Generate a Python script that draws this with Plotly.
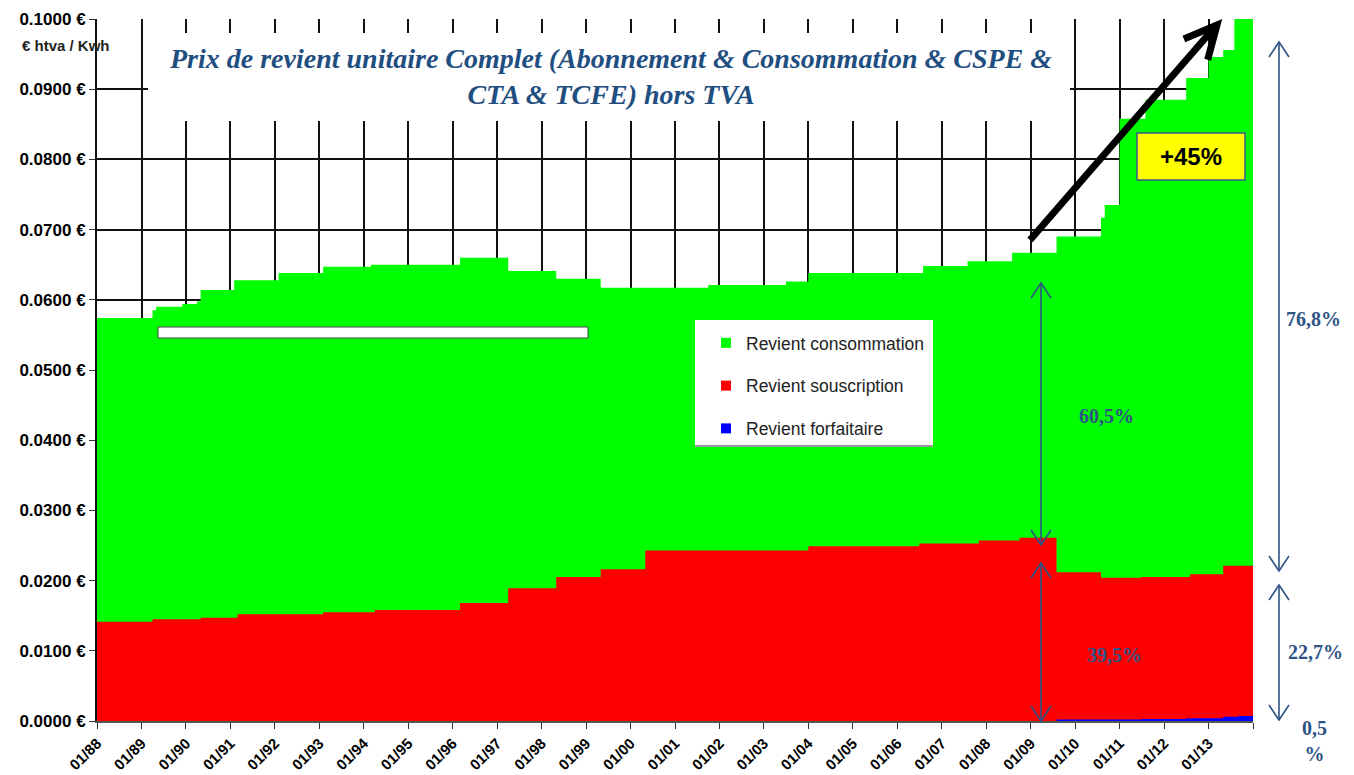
import math
import plotly.graph_objects as go

# step data (value holds from its date until the next one)
# top of the green band = full unit cost (€ HTVA / kWh)
total_dates = ["1988-01-01", "1989-04-01", "1989-05-01", "1989-12-01", "1990-04-01", "1990-05-01",
               "1991-02-01", "1992-02-01", "1993-02-01", "1994-03-01", "1996-03-01", "1997-04-01",
               "1998-05-01", "1999-05-01", "2001-10-01", "2003-07-01", "2004-01-01", "2006-08-01",
               "2007-08-01", "2008-08-01", "2009-08-01", "2010-08-01", "2010-09-01", "2011-01-01",
               "2011-08-01", "2012-07-01", "2013-01-01", "2013-05-01", "2013-08-01", "2014-01-01"]
total_vals = [0.0574, 0.0585, 0.0590, 0.0594, 0.0598, 0.0614,
              0.0628, 0.0638, 0.0647, 0.0650, 0.0660, 0.0641,
              0.0630, 0.0617, 0.0621, 0.0626, 0.0638, 0.0648,
              0.0655, 0.0667, 0.0690, 0.0717, 0.0735, 0.0858,
              0.0885, 0.0916, 0.0946, 0.0956, 0.1000, 0.1000]

# top of the red band (souscription + forfaitaire)
sous_dates = ["1988-01-01", "1989-04-01", "1990-05-01", "1991-03-01", "1993-02-01", "1994-04-01",
              "1996-03-01", "1997-04-01", "1998-05-01", "1999-05-01", "2000-05-01", "2004-01-01",
              "2006-07-01", "2007-11-01", "2008-10-01", "2009-08-01", "2010-08-01", "2011-07-01",
              "2012-08-01", "2013-05-01", "2014-01-01"]
sous_vals = [0.01415, 0.0145, 0.0147, 0.0152, 0.0155, 0.0158,
             0.0168, 0.0189, 0.0205, 0.0216, 0.0243, 0.0249,
             0.0253, 0.0257, 0.0261, 0.0212, 0.0204, 0.0205,
             0.0209, 0.0221, 0.0222]

# blue band (forfaitaire), only from 2009
forf_dates = ["2009-08-01", "2011-07-01", "2012-07-01", "2013-05-01", "2013-09-01", "2014-01-01"]
forf_vals = [0.0002, 0.0003, 0.0004, 0.0006, 0.0007, 0.0007]

tick_dates = ["1988-01-01", "1989-01-01", "1990-01-01", "1991-01-01", "1992-01-01", "1993-01-01",
              "1994-01-01", "1995-01-01", "1996-01-01", "1997-01-01", "1998-01-01", "1999-01-01",
              "2000-01-01", "2001-01-01", "2002-01-01", "2003-01-01", "2004-01-01", "2005-01-01",
              "2006-01-01", "2007-01-01", "2008-01-01", "2009-01-01", "2010-01-01", "2011-01-01",
              "2012-01-01", "2013-01-01", "2014-01-01"]
tick_labels = ["01/88", "01/89", "01/90", "01/91", "01/92", "01/93", "01/94", "01/95", "01/96",
               "01/97", "01/98", "01/99", "01/00", "01/01", "01/02", "01/03", "01/04", "01/05",
               "01/06", "01/07", "01/08", "01/09", "01/10", "01/11", "01/12", "01/13", ""]

share_labels = ["60,5%", "39,5%", "76,8%", "22,7%", "0,5<br>%"]

GREEN, RED, BLUE = "#00FF00", "#FF0000", "#0000FF"
NAVY = "#2E5486"

# page is 1354x775 but the html body has an 8px margin
PAD = 8
W, H = 1354, 775
L, R, T, B = 97, 101, 19, 54          # plot area in page pixels
PW, PH = W - L - R, H - T - B

def X(px): return (px - L) / PW          # page pixel -> paper
def Y(py): return (H - B - py) / PH

fig = go.Figure()
for d, v, name, c in [(total_dates, total_vals, "Revient consommation", GREEN),
                      (sous_dates, sous_vals, "Revient souscription", RED),
                      (forf_dates, forf_vals, "Revient forfaitaire", BLUE)]:
    fig.add_trace(go.Scatter(x=d, y=v, mode="lines", line=dict(width=0, shape="hv", color=c),
                             fill="tozeroy", fillcolor=c, name=name, showlegend=False,
                             hovertemplate="%{x|%m/%y} : %{y:.4f} €<extra>" + name + "</extra>"))
    # legend entry with a small square swatch
    fig.add_trace(go.Scatter(x=[None], y=[None], mode="markers", name=name, legendgroup=name,
                             marker=dict(symbol="square", size=10, color=c)))

def rect(x0, y0, x1, y1, fill, line=None, lw=0):
    return dict(type="rect", xref="paper", yref="paper", x0=X(x0), x1=X(x1), y0=Y(y1), y1=Y(y0),
                fillcolor=fill, line=dict(color=line or fill, width=lw), layer="above")

def seg(x0, y0, x1, y1, color, w):
    return dict(type="line", xref="paper", yref="paper", x0=X(x0), y0=Y(y0), x1=X(x1), y1=Y(y1),
                line=dict(color=color, width=w), layer="above")

def chevron(tip, tail, arm, spread, color, w):
    dx, dy = tip[0] - tail[0], tip[1] - tail[1]
    n = math.hypot(dx, dy)
    ux, uy = -dx / n, -dy / n
    pts = []
    for s in (spread, -spread):
        c, si = math.cos(s), math.sin(s)
        pts.append((tip[0] + arm * (ux * c - uy * si), tip[1] + arm * (ux * si + uy * c)))
    path = "M{},{} L{},{} L{},{}".format(X(pts[0][0]), Y(pts[0][1]), X(tip[0]), Y(tip[1]),
                                         X(pts[1][0]), Y(pts[1][1]))
    return dict(type="path", xref="paper", yref="paper", path=path, layer="above",
                line=dict(color=color, width=w))

def double_arrow(x, y0, y1):
    sp = math.atan(10 / 15)
    return [seg(x, y0, x, y1, NAVY, 1.6),
            chevron((x, y0), (x, y1), 18, sp, NAVY, 1.6),
            chevron((x, y1), (x, y0), 18, sp, NAVY, 1.6)]

shapes = [
    rect(148, 33, 1070, 121, "white"),                 # title box
    rect(158, 327, 588, 338, "white", "#444", 1),      # blank bar
    rect(695, 320, 933, 446, "white"),                 # legend box
    seg(695, 446, 933, 446, "#9a9a9a", 2),
    rect(1137, 133, 1245, 180, "#FFFF00", "#3B5A8A", 1.5),
    seg(1030, 240, 1214, 28, "black", 7),
    chevron((1217, 25), (1030, 240), 36, math.radians(26), "black", 7),
]
shapes += double_arrow(1041, 283, 545)
shapes += double_arrow(1041, 563, 721)
shapes += double_arrow(1279, 42, 571)
shapes += double_arrow(1279, 585, 720)

annos = [
    dict(x=X(66), y=Y(46), text="€ htva / Kwh", font=dict(size=15, color="#222", weight="bold")),
    dict(x=X(610), y=Y(77), align="center",
         text="Prix de revient unitaire Complet (Abonnement & Consommation & CSPE &<br>CTA & TCFE) hors TVA",
         font=dict(family="Liberation Serif", size=28, color="#1F4E80", weight="bold", style="italic")),
    dict(x=X(1191), y=Y(157), text="+45%", font=dict(size=24, color="black", weight="bold")),
]
for (px, py), t in zip([(1106, 416), (1114, 655), (1313, 319), (1315, 652), (1314, 741)], share_labels):
    annos.append(dict(x=X(px), y=Y(py), text=t,
                      font=dict(family="Liberation Serif", size=20, color=NAVY, weight="bold")))
for a in annos:
    a.update(xref="paper", yref="paper", showarrow=False, xanchor="center", yanchor="middle")
    a.setdefault("font", {}).setdefault("family", "Liberation Sans")

fig.update_layout(
    width=W - PAD, height=H - PAD, margin=dict(l=L - PAD, r=R, t=T - PAD, b=B, autoexpand=False),
    paper_bgcolor="white", plot_bgcolor="white",
    font=dict(family="Liberation Sans", color="black"),
    shapes=shapes, annotations=annos,
    legend=dict(x=X(706), y=Y(325), xanchor="left", yanchor="top", bgcolor="rgba(0,0,0,0)",
                tracegroupgap=17, font=dict(size=17.5, color="#222")),
    xaxis=dict(type="date", range=["1988-01-01", "2014-01-01"], tickvals=tick_dates,
               ticktext=tick_labels, tickangle=-45, ticks="outside", ticklen=6, tickcolor="#333",
               showline=True, linecolor="#555", linewidth=1.5,
               showgrid=True, gridcolor="#111", gridwidth=2,
               tickfont=dict(size=15, weight="bold")),
    yaxis=dict(range=[0, 0.1], dtick=0.01, tickformat=".4f", ticksuffix=" €",
               ticks="outside", ticklen=6, tickcolor="#333",
               showline=True, linecolor="#111", linewidth=2,
               showgrid=True, gridcolor="#111", gridwidth=1.5, zeroline=False,
               tickfont=dict(size=17, weight="bold")),
)

fig.write_html("out.html")
